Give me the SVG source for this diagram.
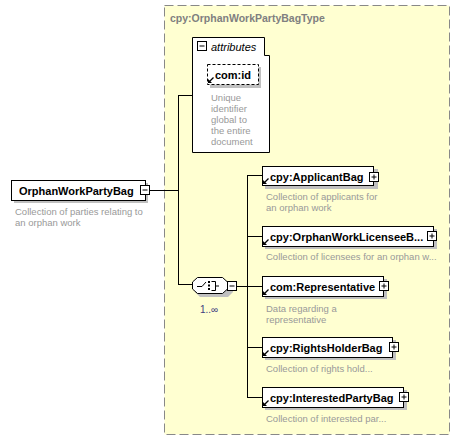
<svg xmlns="http://www.w3.org/2000/svg" width="461" height="442" viewBox="0 0 461 442">
<defs>
<style>
.nm{font-family:"Liberation Sans",Arial,sans-serif;font-weight:bold;font-size:11px;fill:#000}
.ds{font-family:"Liberation Sans",Arial,sans-serif;font-size:9.5px;fill:#999}
.ttl{font-family:"Liberation Sans",Arial,sans-serif;font-weight:bold;font-size:10.5px;fill:#808080}
.box{fill:#fff;stroke:#000;stroke-width:1}
.sh{fill:#c0c0c0}
.ln{stroke:#000;stroke-width:1;fill:none}
</style>
<g id="ref">
<path d="M1.5,6.5 L5.5,2.5" stroke="#000" stroke-width="1.2" fill="none"/>
<path d="M0,8 L0,4 L4,8 Z" fill="#000"/>
</g>
<g id="plus"><rect x="0.5" y="0.5" width="9" height="9" fill="#fff" stroke="#000"/><path d="M2.5,5 H7.5 M5,2.5 V7.5" stroke="#000"/></g>
<g id="minus"><rect x="0.5" y="0.5" width="9" height="9" fill="#fff" stroke="#000"/><path d="M2.5,5 H7.5" stroke="#000"/></g>
</defs>
<rect width="461" height="442" fill="#fff"/>
<g id="type-box">
<rect x="164.5" y="5.5" width="285" height="429" fill="#ffffd1" stroke="#888" stroke-dasharray="9,4"/>
<text class="ttl" x="170" y="22">cpy:OrphanWorkPartyBagType</text>
</g>
<g id="connectors">
<path class="ln" d="M150,190.5 H178.5 M178.5,95 V285 M178,95.5 H192 M178,284.5 H193"/>
<path class="ln" d="M237,286.5 H247.5 M247.5,175 V397 M247,175.5 H262 M247,236.5 H262 M247,286.5 H262 M247,347.5 H262 M247,397.5 H262"/>
</g>
<g id="root">
<rect class="sh" x="14" y="183" width="134" height="20"/>
<rect class="box" x="11.5" y="180.5" width="134" height="20"/>
<text class="nm" x="19" y="195">OrphanWorkPartyBag</text>
<use href="#minus" x="140" y="185"/>
<text class="ds" x="15" y="215">Collection of parties relating to</text>
<text class="ds" x="15" y="226">an orphan work</text>
</g>
<g id="attributes">
<path d="M192.5,37.5 H264.5 V55.5 H269.5 V152.5 H192.5 Z" fill="#fff" stroke="#000"/>
<use href="#minus" x="197" y="41"/>
<text x="211" y="51" style="font-family:'Liberation Sans',Arial,sans-serif;font-style:italic;font-size:11px">attributes</text>
<rect class="sh" x="210" y="67" width="51" height="21"/>
<rect x="207.5" y="64.5" width="51" height="20" fill="#fff" stroke="#000" stroke-dasharray="3,2"/>
<use href="#ref" x="208" y="75"/>
<text class="nm" x="215" y="79">com:id</text>
<text class="ds" x="211" y="101">Unique</text>
<text class="ds" x="211" y="112">identifier</text>
<text class="ds" x="211" y="123">global to</text>
<text class="ds" x="211" y="134">the entire</text>
<text class="ds" x="211" y="145">document</text>
</g>
<g id="sequence">
<path d="M200,281 H228 L233,285 V292 L228,297 H200 L195,292 V285 Z" fill="#c0c0c0"/>
<path d="M197.5,277.5 H222.5 L227.5,282 V289 L222.5,293.5 H197.5 L192.5,289 V282 Z" fill="#fff" stroke="#000"/>
<path d="M197,286.5 H202 L206,282" stroke="#000" fill="none"/>
<rect x="208" y="281" width="2" height="2" fill="#000"/>
<rect x="208" y="284.5" width="2" height="2" fill="#000"/>
<rect x="208" y="288" width="2" height="2" fill="#000"/>
<path d="M211.5,281.5 H215.5 V290.5 H211.5 M215.5,286 H219" stroke="#000" fill="none"/>
<use href="#minus" x="227" y="281"/>
<text x="200" y="313" style="font-family:'Liberation Sans',Arial,sans-serif;font-size:10px;fill:#404080">1..∞</text>
</g>
<g id="applicant">
<rect class="sh" x="265" y="169" width="113" height="20"/>
<rect class="box" x="262.5" y="166.5" width="111" height="19"/>
<use href="#ref" x="263" y="176"/>
<text class="nm" x="270" y="181">cpy:ApplicantBag</text>
<use href="#plus" x="369" y="172"/>
<text class="ds" x="266" y="200">Collection of applicants for</text>
<text class="ds" x="266" y="211">an orphan work</text>
</g>
<g id="licensee">
<rect class="sh" x="265" y="229" width="172" height="20"/>
<rect class="box" x="262.5" y="226.5" width="171" height="20"/>
<use href="#ref" x="263" y="237"/>
<text class="nm" x="270" y="241">cpy:OrphanWorkLicenseeB...</text>
<use href="#plus" x="427" y="231"/>
<text class="ds" x="266" y="260">Collection of licensees for an orphan w...</text>
</g>
<g id="representative">
<rect class="sh" x="265" y="279" width="122" height="20"/>
<rect class="box" x="262.5" y="276.5" width="121" height="20"/>
<use href="#ref" x="263" y="287"/>
<text class="nm" x="270" y="291">com:Representative</text>
<use href="#plus" x="379" y="281"/>
<text class="ds" x="266" y="312">Data regarding a</text>
<text class="ds" x="266" y="323">representative</text>
</g>
<g id="rightsholder">
<rect class="sh" x="265" y="340" width="131" height="20"/>
<rect class="box" x="262.5" y="337.5" width="130" height="20"/>
<use href="#ref" x="263" y="348"/>
<text class="nm" x="270" y="352">cpy:RightsHolderBag</text>
<use href="#plus" x="389" y="342"/>
<text class="ds" x="266" y="372">Collection of rights hold...</text>
</g>
<g id="interestedparty">
<rect class="sh" x="265" y="390" width="142" height="20"/>
<rect class="box" x="262.5" y="387.5" width="141" height="20"/>
<use href="#ref" x="263" y="398"/>
<text class="nm" x="270" y="402">cpy:InterestedPartyBag</text>
<use href="#plus" x="399" y="392"/>
<text class="ds" x="266" y="422">Collection of interested par...</text>
</g>
</svg>
